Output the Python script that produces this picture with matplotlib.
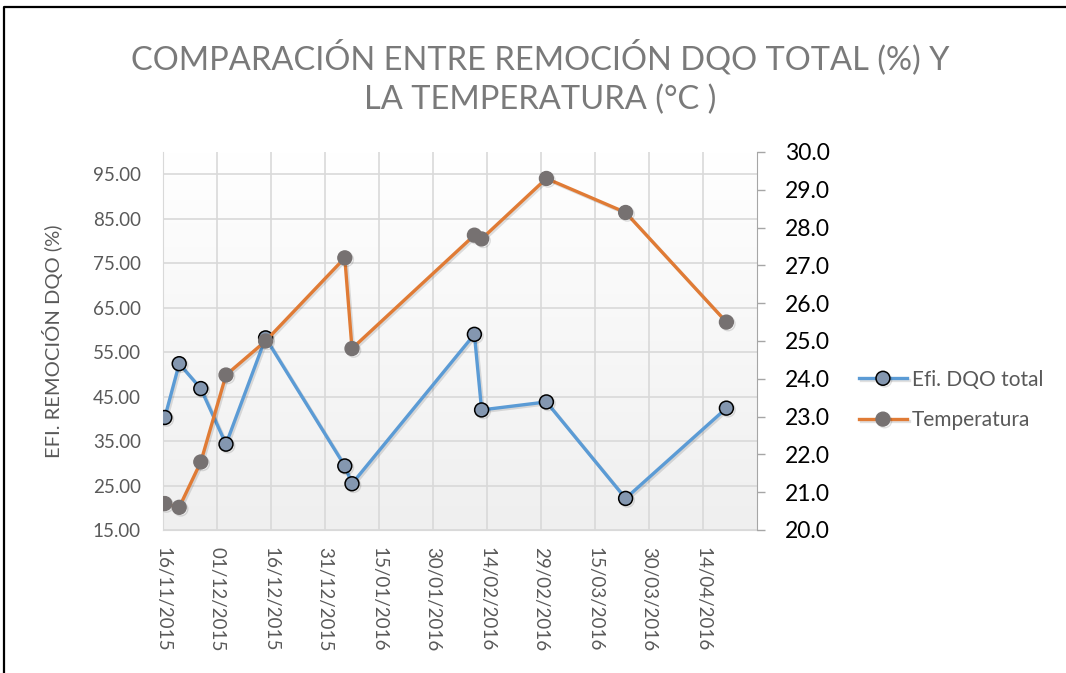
import numpy as np
import matplotlib
matplotlib.use("Agg")
import matplotlib.pyplot as plt
import matplotlib.dates as mdates
import matplotlib.patheffects as pe
from matplotlib.lines import Line2D
from datetime import datetime, timedelta

# sampling dates (dd/mm/yyyy)
fechas = ["16/11/2015", "20/11/2015", "26/11/2015", "03/12/2015", "14/12/2015",
          "05/01/2016", "07/01/2016", "10/02/2016", "12/02/2016", "01/03/2016",
          "23/03/2016", "20/04/2016"]
efi_dqo = [40.3, 52.4, 46.8, 34.3, 58.2, 29.4, 25.4, 59.0, 42.0, 43.8, 22.1, 42.4]
temperatura = [20.7, 20.6, 21.8, 24.1, 25.0, 27.2, 24.8, 27.8, 27.7, 29.3, 28.4, 25.5]

tick_labels = ["16/11/2015", "01/12/2015", "16/12/2015", "31/12/2015", "15/01/2016",
               "30/01/2016", "14/02/2016", "29/02/2016", "15/03/2016", "30/03/2016",
               "14/04/2016"]

plt.rcParams['font.family'] = ['Lato', 'DejaVu Sans']

# Excel date axis: points sit in the middle of their day
x = [datetime.strptime(f, "%d/%m/%Y") + timedelta(hours=12) for f in fechas]
ticks = [datetime.strptime(t, "%d/%m/%Y") for t in tick_labels]
x0 = datetime(2015, 11, 16)
x1 = datetime(2016, 4, 29)

W, H = 1066, 673
fig = plt.figure(figsize=(W / 100, H / 100), dpi=100)
ax = fig.add_axes([163 / W, 1 - 530 / H, 594 / W, 378 / H])
ax2 = ax.twinx()

# background gradient
grad = np.linspace(0, 1, 256).reshape(-1, 1)
ax.imshow(grad, extent=[0, 1, 0, 1], transform=ax.transAxes, aspect='auto',
          cmap=matplotlib.colors.LinearSegmentedColormap.from_list('g', ['#ffffff', '#efefef']),
          origin='upper', zorder=0)

shadow = [pe.SimpleLineShadow(offset=(1.2, -1.2), alpha=0.12, shadow_color='k'), pe.Normal()]

l1, = ax.plot(x, efi_dqo, color='#5b9bd5', lw=2.4, marker='o', ms=10,
              mfc='#8497b0', mec='black', mew=1.1, zorder=3, path_effects=shadow,
              label='Efi. DQO total')
l2, = ax2.plot(x, temperatura, color='#e07b35', lw=2.4, marker='o', ms=10,
               mfc='#767171', mec='#767171', zorder=3, path_effects=shadow,
               label='Temperatura')

ax.set_xlim(x0, x1)
ax.set_ylim(15, 100)
ax2.set_ylim(20, 30)

ax.set_yticks(np.arange(15, 96, 10))
ax.set_yticklabels([f"{v:.2f}" for v in np.arange(15, 96, 10)])
ax2.set_yticks(np.arange(20, 30.1, 1))
ax2.set_yticklabels([f"{v:.1f}" for v in np.arange(20, 30.1, 1)])

ax.set_xticks(ticks)
ax.xaxis.set_major_formatter(mdates.DateFormatter("%d/%m/%Y"))
ax.grid(True, color='#d9d9d9', lw=1.2, zorder=1)
ax.set_axisbelow(True)

ax.tick_params(axis='y', length=0, pad=16, labelsize=13.5, labelcolor='#595959')
ax.tick_params(axis='x', length=0, pad=12, labelsize=13.5, labelcolor='#595959',
               labelrotation=-90)
for lab in ax.get_xticklabels():
    lab.set_va('top')
ax2.tick_params(axis='y', length=6, width=1, color='#a6a6a6', pad=14,
                labelsize=16.5, labelcolor='black')

for s in ['top']:
    ax.spines[s].set_visible(False)
    ax2.spines[s].set_visible(False)
ax.spines['left'].set_color('#d9d9d9')
ax.spines['bottom'].set_color('#d9d9d9')
ax.spines['right'].set_visible(False)
ax2.spines['left'].set_visible(False)
ax2.spines['bottom'].set_visible(False)
ax2.spines['right'].set_color('#a6a6a6')

fig.text(53 / W, 1 - 341 / H, "EFI. REMOCIÓN DQO (%)", rotation=90,
         ha='center', va='center', fontsize=14.5, color='#595959')

fig.text(540 / W, 1 - 57 / H, "COMPARACIÓN ENTRE REMOCIÓN DQO TOTAL (%) Y",
         ha='center', va='center', fontsize=23.5, color='#7a7a7a')
fig.text(540 / W, 1 - 100 / H, "LA TEMPERATURA (°C )",
         ha='center', va='center', fontsize=23.5, color='#7a7a7a')

fig.legend(handles=[l1, l2], loc='center left', bbox_to_anchor=(859 / W, 1 - 400 / H),
           frameon=False, fontsize=15, labelcolor='#595959', handlelength=2.3,
           labelspacing=1.0, handletextpad=0.25, borderpad=0, borderaxespad=0)

# outer frame (left and top edges)
fig.add_artist(Line2D([3.5 / W, 3.5 / W, 1], [0, 1 - 7 / H, 1 - 7 / H],
                      color='black', lw=1.6, transform=fig.transFigure))

fig.savefig("out.png", dpi=100)
